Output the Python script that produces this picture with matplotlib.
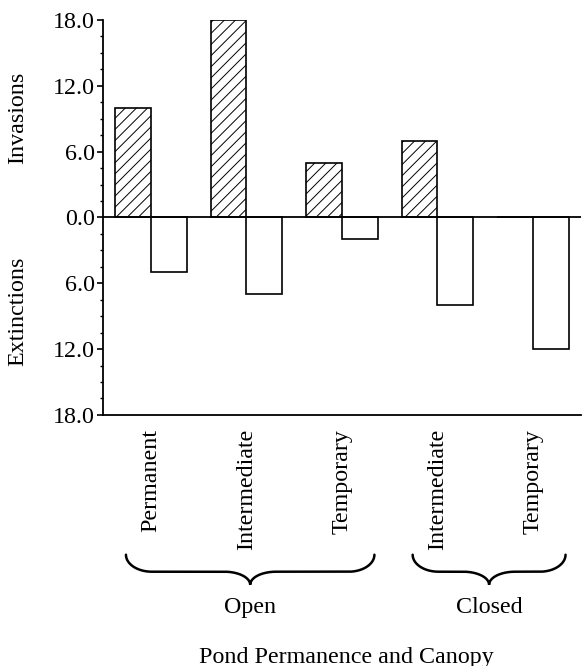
import numpy as np
import matplotlib.pyplot as plt
import matplotlib.transforms as mtransforms
from matplotlib.ticker import MultipleLocator, FuncFormatter

# values
categories = ["Permanent", "Intermediate", "Temporary", "Intermediate", "Temporary"]
invasions = [10.0, 18.0, 5.0, 7.0, 0.0]
extinctions = [5.0, 7.0, 2.0, 8.0, 12.0]
canopy_groups = ["Open", "Closed"]
group_members = [[0, 1, 2], [3, 4]]
y_ticks = [-18, -12, -6, 0, 6, 12, 18]

plt.rcParams['font.family'] = ['Liberation Serif', 'DejaVu Serif']
plt.rcParams['hatch.linewidth'] = 0.7
fs = 17.3


#draws a curly brace (x in data units, y in axes units) out of quarter ellipses
def draw_brace(ax, x0, x1, y_top, y_flat, y_tip, rx, trans):
    xm = (x0 + x1) / 2
    q = np.linspace(0, np.pi / 2, 60)
    r1 = y_top - y_flat
    r2 = y_flat - y_tip
    # left end hook
    xa = x0 + rx - rx * np.cos(q)
    ya = y_top - r1 * np.sin(q)
    # curve into the tip
    xb = xm - rx + rx * np.sin(q)
    yb = y_flat - r2 + r2 * np.cos(q)
    xs_left = np.concatenate([xa, xb])
    ys_left = np.concatenate([ya, yb])
    xs = np.concatenate([xs_left, (2 * xm - xs_left)[::-1]])
    ys = np.concatenate([ys_left, ys_left[::-1]])
    ax.plot(xs, ys, color="black", lw=1.8, transform=trans, clip_on=False,
            solid_capstyle="round", solid_joinstyle="miter")


fig = plt.figure(figsize=(5.82, 6.66), dpi=100)
ax = fig.add_axes([0.177, 0.377, 0.821, 0.593])

x = np.arange(len(categories))
width = 0.375
ax.bar(x - width / 2, invasions, width, color="white", edgecolor="black",
       hatch="///", linewidth=1.2)
ax.bar(x + width / 2, [-e for e in extinctions], width, color="white",
       edgecolor="black", linewidth=1.2)
ax.axhline(0, color="black", lw=1.3)

ax.set_xlim(-0.5, 4.5)
ax.set_ylim(-18, 18)
ax.set_yticks(y_ticks)
ax.yaxis.set_minor_locator(MultipleLocator(1.5))
ax.yaxis.set_major_formatter(FuncFormatter(lambda v, p: "%.1f" % abs(v)))
ax.tick_params(axis="y", which="major", length=4, width=1.2, labelsize=fs, pad=2)
ax.tick_params(axis="y", which="minor", length=2.5, width=1.0)

ax.set_xticks(x)
ax.set_xticklabels(categories, rotation=90, fontsize=fs)
ax.tick_params(axis="x", length=0, pad=10)

for s in ["top", "right"]:
    ax.spines[s].set_visible(False)
ax.spines["left"].set_linewidth(1.3)
ax.spines["bottom"].set_linewidth(1.3)

trans = mtransforms.blended_transform_factory(ax.transData, ax.transAxes)
for name, members in zip(canopy_groups, group_members):
    x0 = members[0] - 0.26
    x1 = members[-1] + 0.34
    draw_brace(ax, x0, x1, -0.354, -0.397, -0.430, 0.27, trans)
    ax.text((x0 + x1) / 2, -0.487, name, transform=trans, ha="center",
            va="center", fontsize=fs)

ax.text(0.509, -0.613, "Pond Permanence and Canopy", transform=ax.transAxes,
        ha="center", va="center", fontsize=fs)

fig.text(0.031, 0.823, "Invasions", rotation=90, ha="center", va="center", fontsize=fs)
fig.text(0.031, 0.532, "Extinctions", rotation=90, ha="center", va="center", fontsize=fs)

fig.savefig("out.png", dpi=100)
